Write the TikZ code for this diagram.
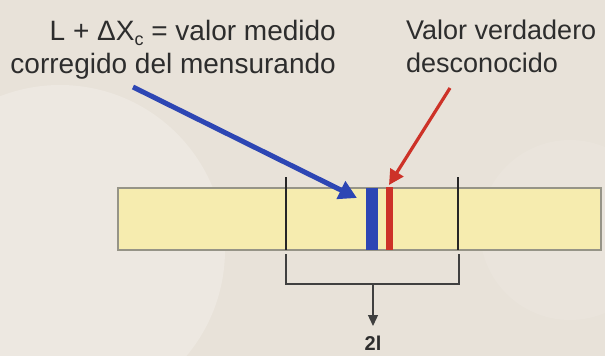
\documentclass[tikz,border=0pt]{standalone}
\usepackage{fontspec}
\setmainfont{Liberation Sans}
\usetikzlibrary{arrows.meta}
\definecolor{bgc}{RGB}{232,226,217}
\definecolor{bglight}{RGB}{237,232,225}
\definecolor{barfill}{RGB}{246,236,175}
\definecolor{barline}{RGB}{150,148,135}
\definecolor{myblue}{RGB}{45,70,180}
\definecolor{myred}{RGB}{205,50,40}
\definecolor{txt}{RGB}{45,45,45}
\tikzset{
  lbl/.style={text=txt, inner sep=0pt},
  tick/.style={draw=black!85, line width=2.2pt},
  brk/.style={draw=black!75, line width=1.3pt},
}
\begin{document}
\begin{tikzpicture}[x=1pt,y=-1pt]
\useasboundingbox (0,0) rectangle (605,356);
\fill[bgc] (0,0) rectangle (605,356);
\begin{scope}
\clip (0,0) rectangle (605,356);
\fill[bglight] (60,250) circle (165);
\fill[bglight, opacity=0.4] (570,230) circle (90);
\end{scope}
% bar
\node (bar) [draw=barline, line width=1.8pt, fill=barfill, inner sep=0pt,
  minimum width=483pt, minimum height=62pt, anchor=north west] at (117,187) {};
% ticks
\coordinate (t1a) at (286,177); \coordinate (t1b) at (286,250);
\coordinate (t2a) at (458,177); \coordinate (t2b) at (458,250);
\draw[tick] (t1a) -- (t1b);
\draw[tick] (t2a) -- (t2b);
% blue and red bars
\node (bluebar) [fill=myblue, inner sep=0pt, minimum width=12pt, minimum height=62pt, anchor=north west] at (366,188) {};
\node (redbar) [fill=myred, inner sep=0pt, minimum width=7pt, minimum height=63pt, anchor=north west] at (386,187) {};
% labels
\node (lleft) [lbl, font=\fontsize{28}{33}\selectfont, align=right, anchor=north east] at (336,20)
  {L + ΔX\raisebox{-0.35ex}{\fontsize{18}{18}\selectfont c} = valor medido\\corregido del mensurando};
\node (lright) [lbl, font=\fontsize{27}{33}\selectfont, align=left, anchor=north west] at (406,20)
  {Valor verdadero\\desconocido};
% arrows
\coordinate (bs) at (133,87);
\coordinate (bt) at (357,198);
\draw[myblue, line width=5pt, -{Triangle[length=18pt,width=19pt]}] (bs) -- (bt);
\coordinate (rs) at (450,88);
\coordinate (rt) at (389,185);
\draw[myred, line width=3.2pt, -{Triangle[length=15pt,width=15pt]}] (rs) -- (rt);
% bracket
\coordinate (k1) at (286,254); \coordinate (k2) at (286,284);
\coordinate (k3) at (459,284); \coordinate (k4) at (459,254);
\draw[brk] (k1) -- (k2) -- (k3) -- (k4);
\coordinate (km) at (373,284);
\coordinate (kt) at (373,326);
\node (two) [font=\bfseries\fontsize{20}{20}\selectfont, text=txt, anchor=north, inner sep=0pt] at (373,336) {2l};
\draw[brk, -{Triangle[length=11pt,width=10pt]}] (km) -- (kt);
\end{tikzpicture}
\end{document}
